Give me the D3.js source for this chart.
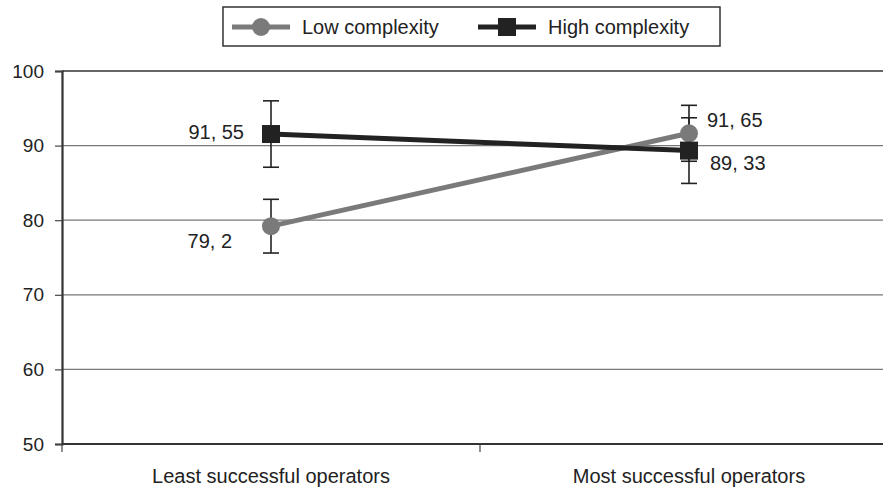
<!DOCTYPE html>
<html>
<head>
<meta charset="utf-8">
<script src="https://cdn.jsdelivr.net/npm/d3@7"></script>
<style>
  body { margin: 0; background: #fff; }
  text { font-family: "Liberation Sans", Arial, sans-serif; fill: #222; }
</style>
</head>
<body>
<script>
// Dimensions
const width = 883;
const height = 492;
const margin = { top: 71, right: -15, bottom: 48, left: 62 };

// données
const categories = ["Least successful operators", "Most successful operators"];
const seriesNames = ["Low complexity", "High complexity"];
const lowValues = [79.2, 91.65];
const lowErrors = [3.6, 3.75];
const lowLabels = ["79, 2", "91, 65"];
const highValues = [91.55, 89.33];
const highErrors = [4.45, 4.4];
const highLabels = ["91, 55", "89, 33"];
const yTicks = [50, 60, 70, 80, 90, 100];

const svg = d3.select("body").append("svg")
  .attr("width", width)
  .attr("height", height);

const x = d3.scaleBand()
  .domain(categories)
  .range([margin.left, width - margin.right]);

const y = d3.scaleLinear()
  .domain([50, 100])
  .range([height - margin.bottom, margin.top]);

// grille
svg.append("g")
  .selectAll("line")
  .data(yTicks.filter(t => t > 50))
  .join("line")
  .attr("x1", margin.left)
  .attr("x2", width)
  .attr("y1", d => y(d))
  .attr("y2", d => y(d))
  .attr("stroke", d => d === 100 ? "#333" : "#777")
  .attr("stroke-width", d => d === 100 ? 1.6 : 1.2);

// axe y
const yAxis = svg.append("g")
  .attr("transform", `translate(${margin.left},0)`)
  .call(d3.axisLeft(y).tickValues(yTicks).tickSize(7).tickPadding(11));
yAxis.select(".domain").attr("stroke", "#333").attr("stroke-width", 2.2);
yAxis.selectAll(".tick line").attr("stroke", "#444").attr("stroke-width", 1.2);
yAxis.selectAll("text").style("font-size", "19px").attr("fill", "#222");

// axe x
const xAxis = svg.append("g")
  .attr("transform", `translate(0,${y(50)})`);
xAxis.append("line")
  .attr("x1", margin.left).attr("x2", width)
  .attr("stroke", "#333").attr("stroke-width", 2.2);
xAxis.selectAll(".sep")
  .data([x.range()[0], x(categories[1])])
  .join("line")
  .attr("class", "sep")
  .attr("x1", d => d).attr("x2", d => d)
  .attr("y1", 0).attr("y2", 8)
  .attr("stroke", "#444").attr("stroke-width", 1.2);
xAxis.selectAll(".lbl")
  .data(categories)
  .join("text")
  .attr("class", "lbl")
  .attr("x", d => x(d) + x.bandwidth() / 2)
  .attr("y", 39)
  .attr("text-anchor", "middle")
  .style("font-size", "20px")
  .text(d => d);

const cx = d => x(d) + x.bandwidth() / 2;

const series = [
  { name: seriesNames[0], values: lowValues, errors: lowErrors, labels: lowLabels, color: "#7a7a7a", shape: "circle" },
  { name: seriesNames[1], values: highValues, errors: highErrors, labels: highLabels, color: "#222", shape: "square" }
];

function drawMarker(g, shape, color, px, py) {
  if (shape === "circle") {
    g.append("circle").attr("cx", px).attr("cy", py).attr("r", 9).attr("fill", color);
  } else {
    g.append("rect").attr("x", px - 9).attr("y", py - 9).attr("width", 18).attr("height", 18).attr("fill", color);
  }
}

// barres d'erreur
series.forEach(s => {
  const g = svg.append("g");
  categories.forEach((c, i) => {
    const px = cx(c);
    const top = y(s.values[i] + s.errors[i]);
    const bot = y(s.values[i] - s.errors[i]);
    g.append("line").attr("x1", px).attr("x2", px).attr("y1", top).attr("y2", bot)
      .attr("stroke", "#222").attr("stroke-width", 1.6);
    [top, bot].forEach(yy => {
      g.append("line").attr("x1", px - 8).attr("x2", px + 8).attr("y1", yy).attr("y2", yy)
        .attr("stroke", "#222").attr("stroke-width", 1.6);
    });
  });
});

// lignes + marqueurs
const line = d3.line()
  .x((d, i) => cx(categories[i]))
  .y(d => y(d));

series.forEach(s => {
  const g = svg.append("g");
  g.append("path")
    .datum(s.values)
    .attr("d", line)
    .attr("fill", "none")
    .attr("stroke", s.color)
    .attr("stroke-width", 5);
  categories.forEach((c, i) => drawMarker(g, s.shape, s.color, cx(c), y(s.values[i])));
});

// étiquettes
const labelPos = [
  [{ dx: -39, dy: 22, anchor: "end" }, { dx: 18, dy: -6, anchor: "start" }],
  [{ dx: -27, dy: 5, anchor: "end" }, { dx: 21, dy: 19, anchor: "start" }]
];
series.forEach((s, si) => {
  categories.forEach((c, i) => {
    const p = labelPos[si][i];
    svg.append("text")
      .attr("x", cx(c) + p.dx)
      .attr("y", y(s.values[i]) + p.dy)
      .attr("text-anchor", p.anchor)
      .style("font-size", "20px")
      .text(s.labels[i]);
  });
});

// légende
const legend = svg.append("g").attr("transform", "translate(223,7)");
legend.append("rect")
  .attr("width", 497).attr("height", 39)
  .attr("fill", "#fff").attr("stroke", "#333").attr("stroke-width", 1.5);
const legendX = [9, 255];
series.forEach((s, i) => {
  const g = legend.append("g").attr("transform", `translate(${legendX[i]},20)`);
  g.append("line").attr("x1", 0).attr("x2", 58).attr("stroke", s.color).attr("stroke-width", 5);
  drawMarker(g, s.shape, s.color, 29, 0);
  g.append("text").attr("x", 70).attr("y", 7).style("font-size", "20px").text(s.name);
});
</script>
</body>
</html>
